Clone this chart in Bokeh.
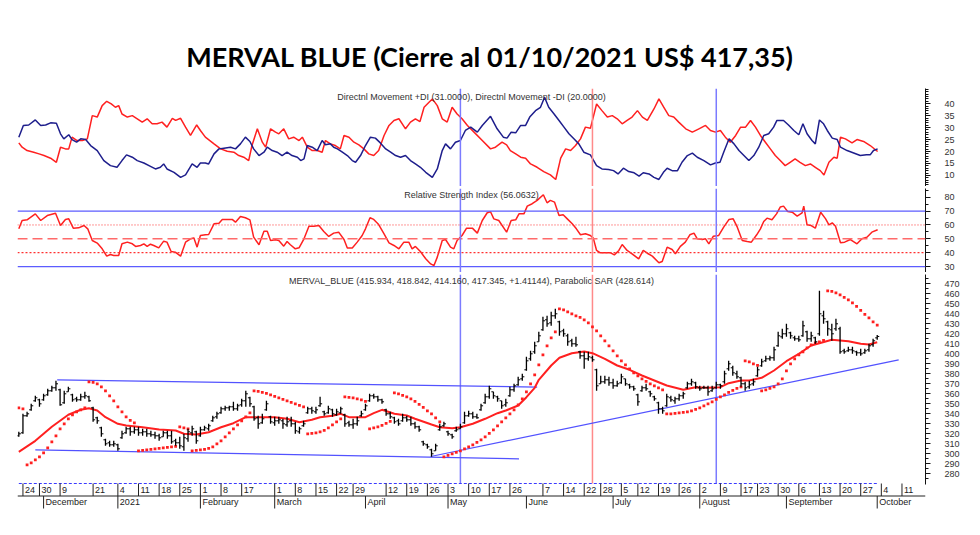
from bokeh.plotting import figure
from bokeh.layouts import column
from bokeh.models import Range1d, FixedTicker, Span, Label
from bokeh.embed import file_html
from bokeh.resources import INLINE
from bokeh.core.properties import value

# ---------------- DATA ----------------
title_text = "MERVAL BLUE (Cierre al 01/10/2021 US$ 417,35)"
dmi_label = "Directnl Movement +DI (31.0000), Directnl Movement -DI (20.0000)"
rsi_label = "Relative Strength Index (56.0632)"
price_label = "MERVAL_BLUE (415.934, 418.842, 414.160, 417.345, +1.41144), Parabolic SAR (428.614)"

# daily OHLC bars (trading-day index 0 = 20 Nov 2020 ... 208 = 01 Oct 2021)
bar_open = [
    318, 321, 338, 344, 353, 354, 354, 359, 363, 366,
    364, 351, 362, 359, 355, 354, 357, 357, 346, 336,
    326, 314, 311, 309, 309, 316, 321, 325, 322, 324,
    321, 322, 320, 319, 318, 317, 321, 318, 313, 311,
    307, 315, 321, 322, 318, 324, 325, 333, 337, 341,
    345, 346, 347, 345, 349, 353, 356, 347, 336, 331,
    344, 337, 331, 333, 333, 329, 333, 330, 322, 328,
    341, 345, 342, 348, 342, 341, 344, 339, 341, 339,
    331, 329, 330, 338, 344, 353, 358, 357, 354, 344,
    340, 336, 333, 333, 336, 334, 330, 327, 312, 309,
    304, 303, 324, 328, 322, 319, 323, 325, 331, 338,
    340, 337, 344, 351, 357, 362, 357, 353, 349, 358,
    364, 369, 375, 384, 395, 402, 412, 424, 434, 431,
    438, 432, 423, 418, 413, 410, 402, 398, 395, 396,
    384, 370, 372, 374, 371, 368, 371, 375, 369, 367,
    359, 363, 366, 362, 357, 351, 345, 348, 356, 353,
    355, 358, 366, 370, 371, 366, 366, 366, 363, 366,
    369, 372, 385, 386, 380, 376, 370, 367, 370, 378,
    388, 393, 395, 396, 408, 417, 420, 421, 416, 415,
    418, 422, 415, 416, 420, 438, 432, 424, 425, 425,
    403, 403, 404, 402, 401, 401, 404, 409, 415.934]
bar_high = [
    322, 340, 342, 350, 358, 355, 360, 365, 368, 373,
    365, 363, 367, 360, 357, 360, 362, 358, 347, 337,
    327, 315, 313, 313, 310, 323, 327, 327, 327, 327,
    325, 325, 323, 322, 320, 323, 323, 323, 315, 317,
    320, 325, 328, 323, 327, 328, 330, 338, 342, 347,
    348, 348, 352, 350, 355, 363, 357, 348, 338, 340,
    353, 338, 337, 337, 335, 337, 337, 332, 327, 333,
    347, 347, 347, 357, 343, 348, 345, 345, 347, 340,
    333, 335, 337, 343, 350, 360, 360, 358, 355, 345,
    342, 337, 335, 340, 338, 337, 332, 328, 313, 310,
    305, 310, 330, 332, 323, 320, 327, 330, 342, 343,
    342, 340, 350, 360, 368, 362, 358, 353, 355, 367,
    370, 377, 380, 397, 403, 412, 422, 437, 438, 442,
    445, 433, 425, 420, 415, 417, 403, 402, 402, 398,
    385, 378, 378, 377, 375, 373, 380, 375, 370, 368,
    360, 368, 370, 363, 358, 352, 347, 360, 358, 357,
    360, 362, 372, 375, 372, 368, 368, 368, 368, 372,
    370, 383, 393, 388, 383, 377, 372, 373, 375, 387,
    395, 398, 398, 407, 422, 425, 430, 422, 418, 418,
    433, 423, 422, 417, 463, 443, 433, 430, 435, 427,
    405, 407, 407, 403, 405, 405, 410, 415, 418.842]
bar_low = [
    317, 320, 337, 343, 352, 347, 353, 358, 362, 363,
    348, 350, 362, 352, 352, 353, 355, 352, 332, 330,
    317, 308, 307, 307, 303, 315, 320, 318, 320, 318,
    318, 317, 317, 315, 313, 317, 315, 310, 308, 305,
    303, 312, 318, 310, 317, 323, 323, 332, 335, 340,
    343, 343, 343, 343, 347, 347, 347, 333, 325, 330,
    343, 330, 328, 330, 325, 327, 327, 320, 320, 327,
    340, 340, 340, 347, 338, 340, 337, 338, 340, 327,
    327, 325, 328, 337, 343, 352, 355, 352, 350, 338,
    335, 330, 328, 332, 332, 328, 325, 322, 308, 305,
    297, 303, 323, 327, 318, 315, 322, 325, 330, 337,
    335, 335, 343, 350, 355, 355, 352, 345, 347, 357,
    362, 368, 373, 383, 393, 400, 412, 423, 427, 428,
    435, 418, 417, 408, 407, 407, 395, 385, 393, 392,
    363, 370, 370, 368, 365, 367, 370, 368, 365, 363,
    348, 362, 363, 357, 353, 340, 340, 347, 352, 350,
    353, 355, 365, 368, 365, 363, 365, 358, 362, 365,
    365, 370, 383, 378, 375, 367, 363, 365, 368, 377,
    387, 392, 393, 393, 407, 415, 417, 415, 413, 412,
    417, 412, 412, 410, 418, 430, 418, 413, 423, 400,
    400, 402, 400, 398, 398, 400, 402, 407, 414.160]
bar_close = [
    320, 338, 340, 348, 356, 350, 358, 363, 366, 370,
    349, 360, 365, 354, 354, 357, 358, 353, 334, 333,
    320, 310, 309, 310, 305, 320, 325, 322, 324, 321,
    322, 320, 319, 318, 316, 321, 318, 312, 311, 308,
    316, 322, 325, 313, 324, 326, 328, 336, 340, 345,
    346, 347, 345, 348, 353, 360, 350, 335, 330, 335,
    350, 332, 333, 334, 330, 332, 330, 323, 325, 330,
    345, 343, 344, 350, 340, 345, 340, 342, 345, 330,
    329, 330, 333, 340, 348, 358, 357, 354, 352, 340,
    337, 332, 330, 336, 334, 330, 327, 324, 310, 307,
    300, 308, 327, 330, 320, 317, 324, 327, 338, 340,
    337, 336, 348, 357, 365, 358, 355, 348, 351, 364,
    368, 374, 377, 393, 400, 408, 418, 433, 430, 438,
    440, 422, 420, 412, 410, 409, 398, 395, 397, 394,
    368, 372, 374, 371, 368, 370, 377, 370, 367, 365,
    352, 366, 365, 360, 355, 345, 343, 357, 354, 355,
    358, 360, 370, 372, 367, 365, 366, 362, 365, 369,
    368, 380, 390, 381, 377, 370, 366, 369, 372, 384,
    392, 395, 396, 404, 418, 420, 425, 418, 415, 414,
    428, 415, 418, 412, 440, 435, 425, 420, 430, 402,
    402, 404, 403, 401, 400, 403, 408, 413, 417.345]
sar_value = [
    346, 345, 289, 291, 294, 297, 301, 306, 312, 318,
    325, 330, 335, 339, 342, 344, 346, 372, 371.5, 370,
    367, 363, 358, 353, 347, 342, 337, 333.5, 331, 303,
    303.5, 304, 304.5, 305, 305.5, 306, 306.5, 307, 307.5, 327,
    326, 325, 303, 303.5, 304, 304.5, 305.5, 307, 310, 313,
    317, 321, 325, 329, 333, 337, 341, 363, 362.5, 361.5,
    360.5, 359, 357.5, 356, 354.5, 353, 351.5, 350, 348.5, 347,
    320, 320.5, 321, 322, 323.5, 326, 329, 332, 335, 357,
    356.5, 356, 355, 354, 352.5, 325, 326, 327, 328.5, 330.5,
    332.5, 361, 360, 358.5, 357, 355, 352.5, 349.5, 346.5, 343,
    340, 336, 332, 297, 298.5, 300, 301.5, 303, 305, 307,
    309, 311.5, 314, 317, 320.5, 324, 328, 332, 336, 340,
    344, 349, 355, 362, 370, 379, 389, 399, 408, 416,
    422, 445, 444, 442, 440, 438, 436.5, 434, 431, 427,
    423, 418, 413, 408, 403, 398, 393, 389, 385, 381,
    378, 375, 372.5, 370, 368, 366, 364, 340, 340, 340.5,
    341, 341.5, 342, 343, 344.5, 346, 348, 350, 352, 354.5,
    357, 359, 361.5, 363.5, 365.5, 367, 393, 392, 390, 388.5,
    363, 364, 365.5, 367, 370, 375, 383, 390, 395, 399,
    402, 406, 409, 411, 412, 413.5, 463, 462.5, 461, 459,
    456.5, 454, 451, 447.5, 443.5, 439.5, 436, 432, 428.614]

# moving average (read at sample bars)
ma_idx = [0, 4, 8, 12, 15, 17, 19, 21, 24, 26, 30, 34, 38, 40, 43, 46, 49, 52, 55, 58,
          62, 65, 68, 71, 73, 76, 78, 80, 84, 86, 88, 91, 94, 96, 100, 102, 105, 107, 110, 113,
          116, 118, 121, 123, 125, 126, 129, 131, 134, 137, 139, 142, 145, 148, 151, 154, 157, 161, 164, 167,
          170, 172, 175, 177, 180, 183, 186, 189, 192, 194, 197, 201, 204, 206, 208]
ma_val = [302, 313, 327, 339, 344, 345.6, 343.3, 336.6, 330, 328.3, 326.6, 324.3, 323.3, 320, 319.3, 321.6, 326.6, 330.6, 336.6, 336.6,
          336.6, 335, 331.6, 334, 336.6, 338, 340, 336.6, 336.6, 340.6, 344, 340, 338.3, 335, 329.3, 326.6, 325.6, 326.6, 330, 335,
          340.6, 343.3, 348.3, 356.6, 366, 374, 388.3, 396, 400.6, 402.3, 400.6, 395, 388.3, 384, 378.3, 373.3, 368.3, 364, 366.6, 366,
          366.6, 370.6, 373.3, 373.3, 376, 383.3, 392.6, 400, 408.3, 410.6, 414, 412.6, 410, 409.3, 411.6]

# Directional movement +DI (navy) and -DI (red)
dip_idx = [0, 1.1, 2.4, 4.0, 5.3, 6.5, 7.7, 9.1, 10.1, 10.9, 12.1, 12.9, 14.0, 15.0, 16.2, 17.4, 19.0, 20.6, 22.2, 23.8,
           25.0, 26.1, 27.5, 28.7, 30.3, 31.9, 33.1, 34.3, 35.1, 35.9, 37.6, 39.2, 40.4, 42.0, 43.2, 44.0, 45.2, 46.0, 47.3, 48.5,
           49.7, 51.3, 52.5, 53.7, 54.9, 56.0, 56.9, 58.2, 59.4, 60.2, 61.4, 62.6, 63.8, 65.0, 66.2, 67.5, 68.3, 69.1, 69.9, 71.1,
           72.3, 73.5, 74.3, 75.5, 76.3, 77.2, 78.4, 79.6, 80.8, 81.6, 82.8, 84.0, 85.2, 86.4, 87.6, 88.9, 90.1, 91.3, 92.5, 93.7,
           94.9, 96.1, 97.3, 98.6, 100.2, 101.4, 102.6, 103.4, 104.6, 105.8, 107.0, 108.2, 109.5, 111.1, 112.3, 114.3, 115.9, 117.4, 118.3, 119.3,
           120.4, 121.6, 122.8, 123.8, 125.2, 126.4, 127.4, 128.4, 129.7, 130.9, 132.1, 133.3, 134.5, 135.7, 136.9, 138.5, 140.0, 141.3, 142.9, 144.1,
           145.2, 146.5, 147.8, 149.1, 150.3, 151.3, 152.7, 153.9, 155.1, 156.2, 157.1, 158.3, 159.6, 160.7, 162.0, 163.2, 164.4, 166.0, 167.6, 168.8,
           169.9, 170.8, 172.1, 173.3, 174.5, 175.7, 176.9, 178.1, 179.3, 180.5, 181.7, 182.9, 183.7, 185.3, 186.5, 187.8, 189.0, 190.0, 191.0, 192.2,
           193.0, 194.0, 195.0, 195.9, 197.1, 198.3, 199.1, 200.7, 202.3, 203.9, 205.4, 206.3, 207.1, 208.1]
dip_val = [26.0, 30.9, 31.1, 33.2, 30.9, 31.1, 32.0, 31.8, 27.4, 25.3, 27.0, 25.0, 23.9, 25.3, 25.0, 22.5, 20.4, 16.2, 14.1, 13.4,
           16.2, 18.6, 17.6, 16.2, 15.2, 13.8, 12.7, 13.4, 14.8, 12.7, 11.3, 9.2, 10.2, 14.8, 13.4, 15.2, 15.2, 14.8, 19.0, 21.1,
           21.4, 21.8, 21.1, 23.2, 26.0, 24.2, 21.1, 18.3, 19.7, 21.8, 20.4, 19.7, 18.3, 19.7, 18.3, 17.6, 16.2, 16.9, 22.5, 21.8,
           20.4, 24.6, 22.8, 23.2, 21.8, 21.1, 19.7, 18.3, 16.2, 15.5, 18.3, 22.5, 26.0, 25.6, 23.6, 21.1, 19.7, 18.3, 17.6, 18.3,
           16.2, 14.8, 13.4, 11.3, 9.2, 12.7, 20.4, 23.2, 21.1, 23.9, 24.6, 28.8, 30.2, 28.1, 30.9, 34.7, 29.5, 26.0, 25.6, 28.1,
           27.8, 30.9, 30.9, 34.4, 37.1, 38.5, 42.7, 38.5, 35.7, 33.0, 30.2, 27.4, 25.3, 23.2, 19.7, 18.6, 14.1, 12.7, 12.5, 12.0,
           10.6, 13.0, 11.6, 11.1, 9.7, 11.1, 10.6, 9.2, 8.3, 11.3, 13.0, 12.0, 12.0, 15.5, 18.3, 19.3, 17.6, 16.2, 14.4, 15.2,
           15.5, 19.7, 25.3, 23.2, 20.4, 18.3, 16.2, 18.3, 21.8, 26.7, 27.4, 30.2, 33.0, 33.0, 31.1, 28.8, 27.0, 31.6, 27.4, 24.6,
           23.2, 33.2, 31.6, 28.8, 25.6, 25.0, 21.8, 20.4, 19.4, 18.3, 18.6, 18.6, 20.4, 21.1]
dim_idx = [0, 0.8, 2.0, 3.6, 4.9, 6.1, 7.7, 9.1, 10.1, 11.3, 12.1, 12.9, 14.1, 15.4, 16.6, 17.8, 19.0, 20.2, 21.3, 22.4,
           23.4, 24.2, 25.0, 26.3, 27.5, 28.7, 29.9, 31.1, 32.3, 33.5, 34.7, 35.9, 37.2, 38.0, 39.2, 40.4, 41.6, 43.1, 44.0, 45.2,
           47.3, 48.9, 50.5, 52.1, 53.3, 54.5, 55.7, 56.5, 57.8, 59.0, 59.8, 61.0, 62.2, 63.0, 64.2, 65.4, 66.6, 67.9, 68.7, 69.9,
           71.1, 72.3, 73.5, 74.3, 75.5, 76.7, 77.9, 78.8, 80.0, 81.2, 82.4, 83.6, 84.8, 86.0, 87.2, 88.5, 89.7, 90.9, 92.1, 93.7,
           94.9, 96.1, 97.2, 98.2, 99.4, 100.2, 101.4, 102.6, 103.8, 105.0, 106.2, 107.4, 108.7, 110.3, 112.3, 114.3, 115.5, 117.1, 118.2, 119.1,
           120.4, 121.6, 122.8, 124.0, 125.6, 127.2, 128.8, 130.1, 131.3, 132.5, 133.7, 134.9, 136.1, 137.3, 138.5, 140.0, 141.3, 142.6, 143.8, 145.0,
           146.2, 147.4, 148.6, 149.9, 151.1, 152.3, 153.9, 155.1, 156.3, 157.5, 158.7, 159.9, 161.6, 163.2, 164.8, 166.4, 167.6, 168.8, 170.0, 171.2,
           172.4, 173.7, 174.9, 176.1, 177.3, 178.5, 179.7, 180.9, 182.1, 183.3, 184.5, 185.7, 186.9, 188.1, 189.3, 190.6, 191.8, 193.0, 194.2, 195.1,
           196.3, 197.5, 198.3, 199.1, 200.3, 201.9, 203.1, 204.7, 206.3, 208.1]
dim_val = [23.6, 21.8, 20.4, 19.7, 19.0, 18.3, 17.2, 15.5, 21.8, 21.1, 21.1, 26.0, 24.6, 24.6, 25.3, 35.0, 34.4, 39.2, 41.0, 39.9,
           38.5, 39.2, 35.7, 34.4, 35.0, 33.7, 32.3, 33.7, 31.6, 31.6, 32.3, 30.2, 33.9, 33.0, 33.9, 30.2, 26.7, 31.1, 28.8, 26.0,
           23.2, 21.1, 20.1, 19.7, 18.3, 17.6, 16.2, 22.5, 29.5, 23.9, 21.8, 29.5, 28.1, 27.4, 29.5, 25.3, 26.0, 24.6, 26.0, 21.8,
           20.4, 20.4, 19.7, 24.6, 23.2, 22.5, 21.1, 26.7, 26.0, 23.9, 22.8, 21.1, 19.0, 18.3, 20.4, 26.7, 30.9, 33.0, 33.7, 29.5,
           32.3, 33.7, 32.5, 38.5, 40.6, 42.0, 39.2, 33.7, 32.3, 38.5, 35.7, 33.7, 30.9, 28.1, 24.6, 21.1, 21.8, 23.9, 22.8, 20.4,
           19.0, 17.6, 17.2, 14.8, 13.4, 11.6, 10.2, 8.3, 17.2, 21.1, 20.4, 22.5, 25.3, 30.2, 29.7, 39.9, 37.1, 34.4, 35.0, 33.7,
           31.6, 33.0, 34.4, 37.1, 34.4, 33.0, 37.8, 42.0, 38.5, 35.0, 34.4, 32.3, 29.5, 28.1, 29.5, 30.9, 28.8, 28.1, 28.8, 26.0,
           23.9, 26.7, 30.2, 30.2, 33.0, 30.2, 26.7, 23.9, 21.1, 18.3, 16.2, 14.1, 15.5, 16.9, 15.5, 14.1, 14.8, 13.4, 12.0, 10.2,
           15.5, 17.6, 17.2, 26.0, 25.3, 23.6, 25.0, 24.2, 22.5, 20.0]

# Relative Strength Index
rsi_idx = [0, 0.8, 2.0, 4.0, 5.3, 6.9, 8.9, 10.1, 11.3, 12.1, 13.2, 14.5, 15.8, 16.7, 17.8, 19.0, 20.2, 21.3, 22.2, 23.0,
           24.2, 25.0, 26.3, 27.5, 28.3, 29.5, 30.3, 31.1, 31.9, 32.7, 33.9, 35.1, 35.9, 36.9, 37.9, 39.2, 40.4, 41.6, 42.4, 43.2,
           44.0, 45.2, 46.0, 47.3, 48.5, 49.3, 50.5, 51.7, 52.5, 53.7, 54.9, 56.0, 56.9, 58.2, 59.4, 60.2, 61.0, 62.2, 63.0, 64.2,
           65.0, 65.8, 67.0, 67.9, 69.1, 70.3, 71.5, 72.7, 73.9, 75.1, 76.3, 77.5, 78.8, 79.6, 80.8, 82.0, 83.2, 84.0, 85.1, 86.0,
           87.2, 88.5, 89.7, 90.9, 92.1, 93.3, 94.5, 95.3, 96.1, 97.3, 98.6, 99.8, 100.6, 101.4, 102.6, 103.4, 104.6, 105.4, 106.2, 107.4,
           108.5, 109.9, 111.1, 112.3, 113.5, 114.3, 115.1, 116.3, 118.2, 119.3, 120.4, 121.2, 122.4, 123.2, 124.4, 125.6, 127.1, 128.0, 128.8, 129.8,
           130.9, 131.9, 132.9, 134.1, 135.1, 136.1, 137.3, 138.5, 139.2, 140.0, 140.9, 142.2, 143.4, 144.3, 145.4, 146.2, 147.4, 148.6, 150.2, 151.3,
           152.3, 153.5, 155.1, 155.9, 157.1, 158.3, 159.1, 160.3, 161.5, 162.6, 163.6, 164.4, 165.6, 166.4, 167.2, 168.3, 169.6, 170.8, 172.1, 173.1,
           174.1, 175.3, 176.5, 177.5, 178.8, 179.7, 180.5, 181.3, 182.5, 183.6, 184.5, 185.3, 186.3, 187.4, 188.6, 189.8, 190.2, 191.0, 192.0, 193.0,
           194.3, 195.5, 196.3, 197.1, 197.9, 199.1, 200.1, 201.5, 203.1, 204.3, 205.5, 206.7, 208.1]
rsi_val = [57.2, 63.2, 63.7, 68.0, 63.2, 66.8, 68.5, 59.6, 64.0, 64.4, 57.7, 57.9, 59.6, 57.2, 48.8, 46.9, 42.8, 37.5, 38.7, 38.0,
           38.0, 46.4, 47.6, 46.4, 44.5, 45.2, 46.4, 44.5, 46.1, 45.2, 43.5, 48.3, 47.6, 40.8, 40.4, 37.5, 47.6, 50.0, 50.7, 44.0,
           52.4, 52.9, 53.1, 60.8, 61.3, 64.0, 64.0, 64.0, 62.0, 66.1, 65.2, 63.7, 51.2, 45.7, 55.5, 55.5, 48.8, 49.3, 48.8, 44.7,
           48.1, 45.7, 42.8, 43.5, 50.0, 59.1, 59.1, 59.6, 55.3, 51.7, 54.1, 54.8, 49.5, 43.3, 43.3, 47.6, 52.4, 57.2, 65.2, 64.0,
           60.3, 53.6, 47.1, 45.2, 42.8, 47.6, 47.6, 42.8, 44.5, 40.8, 35.6, 31.9, 30.7, 36.8, 48.8, 49.5, 44.0, 42.8, 48.8, 52.4,
           57.7, 57.7, 54.1, 63.2, 68.8, 69.5, 64.4, 63.2, 54.8, 63.2, 63.7, 68.0, 68.0, 73.6, 75.3, 77.7, 81.8, 76.0, 77.7, 76.5,
           66.8, 67.3, 64.4, 60.8, 57.2, 52.9, 53.6, 52.4, 50.5, 41.6, 39.9, 39.9, 39.9, 38.4, 41.6, 45.9, 41.6, 39.2, 35.5, 41.6,
           39.6, 37.5, 32.7, 33.6, 44.0, 42.3, 39.2, 44.5, 47.6, 52.9, 54.1, 50.0, 49.5, 50.0, 46.4, 51.9, 52.4, 58.4, 64.0, 64.4,
           58.4, 48.8, 48.1, 47.6, 52.9, 57.2, 62.5, 64.9, 63.7, 68.0, 72.9, 73.6, 69.7, 69.2, 66.4, 68.8, 73.6, 60.1, 59.6, 57.7,
           69.2, 64.4, 60.1, 61.5, 59.1, 47.1, 47.6, 49.5, 46.4, 50.0, 51.2, 54.8, 56.5]
rsi_levels = [70, 60, 50, 40, 30]

# hand-drawn trend lines on the price panel (start bar, start value, end bar, end value)
trend_x0 = [9.3, 4.0, 99.8]
trend_y0 = [374.0, 304.0, 297.3]
trend_x1 = [125.6, 121.2, 213.2]
trend_y1 = [366.7, 295.0, 394.0]

# vertical marker lines (bar index) and their colours
marker_idx = [107, 139, 169]
marker_color = ["#7b7bff", "#ff8a8a", "#7b7bff"]

# date axis (bar index of each labelled day / month start)
day_tick_idx = [1, 5, 10, 18, 24, 29, 34, 39, 44, 49, 54, 62, 67, 72, 77, 81, 89, 94, 99, 104, 109,
                114, 119, 127, 132, 137, 141, 146, 150, 155, 160, 165, 170, 175, 179, 184, 189, 194, 199, 204, 209, 214]
day_tick_lbl = ["24", "30", "9", "21", "4", "11", "18", "25", "1", "8", "17", "1", "8", "15", "22", "29", "12", "19", "26", "3", "10",
                "17", "26", "7", "14", "22", "28", "5", "12", "19", "26", "2", "9", "17", "23", "30", "6", "13", "20", "27", "4", "11"]
month_idx = [6, 24, 44, 62, 84, 104, 123, 144, 165, 186, 208]
month_lbl = ["December", "2021", "February", "March", "April", "May", "June", "July", "August", "September", "October"]

dmi_ticks = [10, 15, 20, 25, 30, 35, 40]
rsi_ticks = [30, 40, 50, 60, 70, 80]
price_ticks = [280, 290, 300, 310, 320, 330, 340, 350, 360, 370, 380, 390, 400, 410, 420, 430, 440, 450, 460, 470]

# ---------------- STYLE / LAYOUT ----------------
FONT = "Liberation Sans"
NAVY = "#1e1e8c"
RED = "#ff2020"
X_START, X_END = -0.32, 219.7
X_MID = (X_START + X_END) / 2
bar_idx = list(range(len(bar_close)))


def make_fig(height, y0, y1, border_bottom=0):
    p = figure(width=980, height=height, x_range=Range1d(X_START, X_END), y_range=Range1d(y0, y1),
               toolbar_location=None, output_backend="svg", x_axis_location=None, y_axis_location="right",
               min_border_left=17, min_border_right=55, min_border_top=0, min_border_bottom=border_bottom)
    p.outline_line_color = None
    p.background_fill_color = "white"
    p.border_fill_color = "white"
    for g in p.grid:
        g.visible = False
    return p


def style_axis(ax, ticks, minor, bounds=None):
    ax.ticker = FixedTicker(ticks=ticks, minor_ticks=minor)
    ax.axis_line_color = "#111111"
    ax.major_tick_line_color = "#111111"
    ax.minor_tick_line_color = "#111111"
    ax.major_tick_out = 5
    ax.major_tick_in = 0
    ax.minor_tick_out = 3
    ax.minor_tick_in = 0
    ax.major_label_standoff = 14
    ax.major_label_text_font = FONT
    ax.major_label_text_font_size = "9px"
    ax.major_label_text_color = "#333333"
    if bounds is not None:
        ax.bounds = bounds


def separator():
    s = figure(width=980, height=2, toolbar_location=None, output_backend="svg",
               x_axis_location=None, y_axis_location=None, min_border=0,
               min_border_left=17, min_border_right=18)
    s.outline_line_color = None
    s.background_fill_color = "#8c8c8c"
    s.border_fill_color = "white"
    for g in s.grid:
        g.visible = False
    return s


# title
tfig = figure(width=980, height=88, x_range=Range1d(0, 980), y_range=Range1d(88, 0),
              toolbar_location=None, output_backend="svg", x_axis_location=None, y_axis_location=None,
              min_border=0)
tfig.outline_line_color = None
for g in tfig.grid:
    g.visible = False
tfig.add_layout(Label(x=510, y=56, text=title_text, text_align="center", text_baseline="alphabetic",
                      text_font="Lato", text_font_style="bold", text_font_size="27px", text_color="black"))

# DMI panel
dmi = make_fig(98, 5.36, 46.36)
style_axis(dmi.yaxis[0], dmi_ticks, list(range(6, 47)))
for xi, c in zip(marker_idx, marker_color):
    dmi.add_layout(Span(location=xi, dimension="height", line_color=c, line_width=1.5))
dmi.line(dim_idx, dim_val, line_color=RED, line_width=1.5)
dmi.line(dip_idx, dip_val, line_color=NAVY, line_width=1.5)
dmi.add_layout(Label(x=X_MID, y=43.0, text=dmi_label, text_align="center", text_baseline="middle",
                     text_font=FONT, text_font_size="9px", text_color="#333333"))

# RSI panel
rsi = make_fig(84, 25.7, 86.3)
style_axis(rsi.yaxis[0], rsi_ticks, [25, 35, 45, 55, 65, 75, 85])
level_style = {70: ("#5c5cff", None, 1.2), 30: ("#5c5cff", None, 1.2),
               60: ("#ff3030", "1 2", 1.0), 40: ("#ff3030", "2 2", 1.2), 50: ("#ff6a6a", "10 5", 1.5)}
for lv in rsi_levels:
    c, d, w = level_style[lv]
    sp = Span(location=lv, dimension="width", line_color=c, line_width=w)
    if d:
        sp.line_dash = d
    rsi.add_layout(sp)
for xi, c in zip(marker_idx, marker_color):
    rsi.add_layout(Span(location=xi, dimension="height", line_color=c, line_width=1.5))
rsi.line(rsi_idx, rsi_val, line_color=RED, line_width=1.5)
rsi.add_layout(Label(x=X_MID, y=81.8, text=rsi_label, text_align="center", text_baseline="middle",
                     text_font=FONT, text_font_size="9px", text_color="#333333"))

# price panel (includes the two date rows at the bottom)
P_TOP, P_BOT = 479.3, 242.3
ROW_TOP, ROW_MID, ROW_BOT = 270.3, 264.0, 257.8
MONTH_MID, MONTH_BOT = 251.6, 245.3
price = make_fig(261, P_BOT, P_TOP, border_bottom=24)
style_axis(price.yaxis[0], price_ticks, [v + 5 for v in price_ticks[:-1]] + [275, 475], bounds=(269.5, P_TOP))

price.segment(x0=marker_idx, x1=marker_idx, y0=[ROW_TOP] * len(marker_idx), y1=[P_TOP] * len(marker_idx),
              line_color=marker_color, line_width=1.5)
price.segment(x0=trend_x0, y0=trend_y0, x1=trend_x1, y1=trend_y1, line_color="#5252ff", line_width=1.2)
price.line(ma_idx, ma_val, line_color=RED, line_width=2)
price.scatter(bar_idx, sar_value, marker="square", size=2.8, fill_color=RED, line_color=None)
price.segment(x0=bar_idx, x1=bar_idx, y0=bar_low, y1=bar_high, line_color="black", line_width=1.3)
price.segment(x0=[i - 0.5 for i in bar_idx], x1=bar_idx, y0=bar_open, y1=bar_open, line_color="black", line_width=1)
price.segment(x0=bar_idx, x1=[i + 0.5 for i in bar_idx], y0=bar_close, y1=bar_close, line_color="black", line_width=1)
price.add_layout(Label(x=X_MID, y=472.6, text=price_label, text_align="center", text_baseline="middle",
                       text_font=FONT, text_font_size="9px", text_color="#333333"))

# date rows
price.line([bar_idx[0], bar_idx[-1]], [ROW_TOP, ROW_TOP], line_color="#3a3aff", line_dash="3 2", line_width=1)
price.add_layout(Span(location=ROW_BOT, dimension="width", line_color="#222222", line_width=1))
price.segment(x0=day_tick_idx, x1=day_tick_idx, y0=[ROW_BOT] * len(day_tick_idx), y1=[ROW_TOP] * len(day_tick_idx),
              line_color="#222222", line_width=1)
price.text(x=day_tick_idx, y=[ROW_MID] * len(day_tick_idx), text=day_tick_lbl, x_offset=2,
           text_font=value(FONT), text_font_size="9px", text_color="#222222",
           text_align="left", text_baseline="middle")
price.segment(x0=month_idx, x1=month_idx, y0=[MONTH_BOT] * len(month_idx), y1=[ROW_BOT] * len(month_idx),
              line_color="#222222", line_width=1)
price.text(x=month_idx, y=[MONTH_MID] * len(month_idx), text=month_lbl, x_offset=2,
           text_font=value(FONT), text_font_size="9px", text_color="#222222",
           text_align="left", text_baseline="middle")

layout = column(tfig, dmi, separator(), rsi, separator(), price, spacing=0)

with open("out.html", "w") as f:
    f.write(file_html(layout, INLINE))
